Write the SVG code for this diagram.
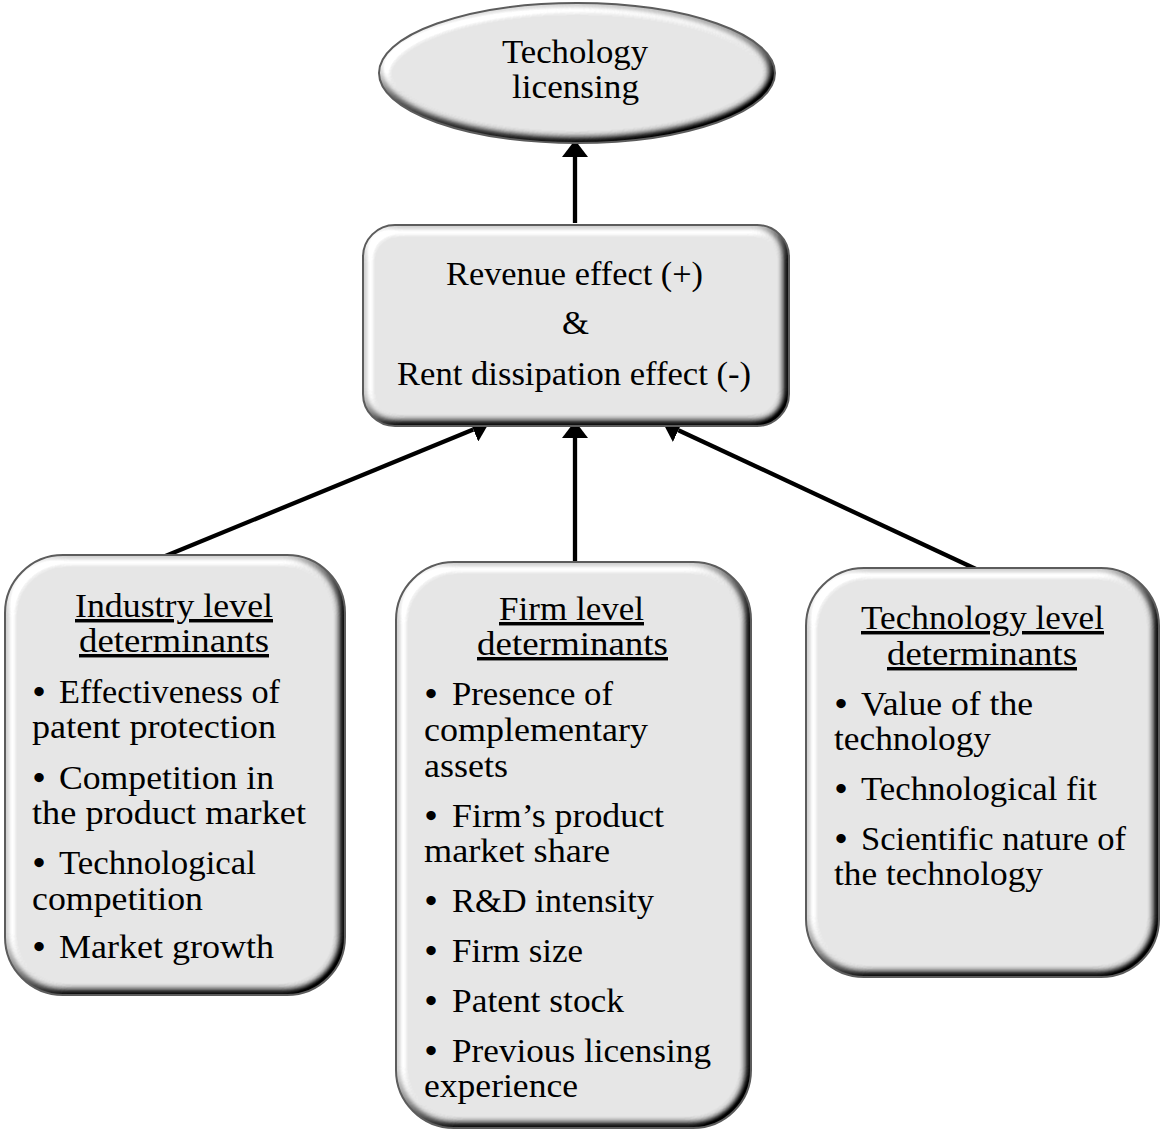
<svg xmlns="http://www.w3.org/2000/svg" width="1161" height="1131" viewBox="0 0 1161 1131">
<style>
.shape{fill:#e6e6e6;filter:url(#bevel)}
.outline{fill:none;stroke:#5c5c5c;stroke-width:2}
.t{font-family:"Liberation Serif","Times New Roman",serif;font-size:34.5px;fill:#000}
.b{font-weight:bold}
.u{text-decoration:underline}
.conn{stroke:#000;stroke-width:4.3;fill:none;marker-end:url(#arrow)}
</style>
<defs>
<filter id="bevel" x="-5%" y="-5%" width="110%" height="110%" color-interpolation-filters="sRGB">
<feGaussianBlur in="SourceAlpha" stdDeviation="5" result="b"/>
<feDiffuseLighting in="b" surfaceScale="8" diffuseConstant="1" lighting-color="#ffffff" result="l">
<feDistantLight azimuth="225" elevation="60"/>
</feDiffuseLighting>
<feComposite in="SourceGraphic" in2="l" operator="arithmetic" k1="0" k2="1" k3="1.35" k4="-1.169" result="c"/>
<feComposite in="c" in2="SourceAlpha" operator="in"/>
</filter>
<marker id="arrow" markerUnits="userSpaceOnUse" markerWidth="17" markerHeight="26" refX="0" refY="13" orient="auto">
<path d="M0,0 L17,13 L0,26 Z" fill="#000"/>
</marker>
</defs>
<rect width="1161" height="1131" fill="#ffffff"/>

<g id="connectors">
<line class="conn" x1="575" y1="223" x2="575" y2="157"/>
<line class="conn" x1="575" y1="565" x2="575" y2="438"/>
<line class="conn" x1="163" y1="557" x2="473.3" y2="429.5"/>
<line class="conn" x1="978" y1="570" x2="678.4" y2="430.2"/>
</g>

<g id="n-licensing">
<ellipse class="shape" cx="577" cy="73" rx="198" ry="70"/>
<ellipse class="outline" cx="577" cy="73" rx="198" ry="70"/>
<text class="t" x="502" y="63" textLength="146" lengthAdjust="spacingAndGlyphs">Techology</text>
<text class="t" x="512" y="98" textLength="127" lengthAdjust="spacingAndGlyphs">licensing</text>
</g>

<g id="n-effects">
<rect class="shape" x="363" y="225" width="426" height="201" rx="32"/>
<rect class="outline" x="363" y="225" width="426" height="201" rx="32"/>
<text class="t" x="446" y="285" textLength="257" lengthAdjust="spacingAndGlyphs">Revenue effect (+)</text>
<text class="t" x="562" y="334" textLength="27" lengthAdjust="spacingAndGlyphs">&amp;</text>
<text class="t" x="397" y="385" textLength="354" lengthAdjust="spacingAndGlyphs">Rent dissipation effect (-)</text>
</g>

<g id="n-industry">
<rect class="shape" x="5" y="555" width="340" height="440" rx="58"/>
<rect class="outline" x="5" y="555" width="340" height="440" rx="58"/>
<text class="t u" x="75" y="617" textLength="198" lengthAdjust="spacingAndGlyphs">Industry level</text>
<text class="t u" x="79" y="652" textLength="190" lengthAdjust="spacingAndGlyphs">determinants</text>
<text class="t b" x="33" y="703">•</text>
<text class="t" x="59" y="703" textLength="221" lengthAdjust="spacingAndGlyphs">Effectiveness of</text>
<text class="t" x="32" y="738" textLength="244" lengthAdjust="spacingAndGlyphs">patent protection</text>
<text class="t b" x="33" y="789">•</text>
<text class="t" x="59" y="789" textLength="215" lengthAdjust="spacingAndGlyphs">Competition in</text>
<text class="t" x="32" y="824" textLength="274" lengthAdjust="spacingAndGlyphs">the product market</text>
<text class="t b" x="33" y="874">•</text>
<text class="t" x="59" y="874" textLength="197" lengthAdjust="spacingAndGlyphs">Technological</text>
<text class="t" x="32" y="910" textLength="171" lengthAdjust="spacingAndGlyphs">competition</text>
<text class="t b" x="33" y="958">•</text>
<text class="t" x="59" y="958" textLength="215" lengthAdjust="spacingAndGlyphs">Market growth</text>
</g>

<g id="n-firm">
<rect class="shape" x="396" y="562" width="355" height="566" rx="58"/>
<rect class="outline" x="396" y="562" width="355" height="566" rx="58"/>
<text class="t u" x="499" y="620" textLength="145" lengthAdjust="spacingAndGlyphs">Firm level</text>
<text class="t u" x="477" y="655" textLength="191" lengthAdjust="spacingAndGlyphs">determinants</text>
<text class="t b" x="425" y="705">•</text>
<text class="t" x="452" y="705" textLength="161" lengthAdjust="spacingAndGlyphs">Presence of</text>
<text class="t" x="424" y="741" textLength="224" lengthAdjust="spacingAndGlyphs">complementary</text>
<text class="t" x="424" y="777" textLength="84" lengthAdjust="spacingAndGlyphs">assets</text>
<text class="t b" x="425" y="827">•</text>
<text class="t" x="452" y="827" textLength="212" lengthAdjust="spacingAndGlyphs">Firm’s product</text>
<text class="t" x="424" y="862" textLength="186" lengthAdjust="spacingAndGlyphs">market share</text>
<text class="t b" x="425" y="912">•</text>
<text class="t" x="452" y="912" textLength="202" lengthAdjust="spacingAndGlyphs">R&amp;D intensity</text>
<text class="t b" x="425" y="962">•</text>
<text class="t" x="452" y="962" textLength="131" lengthAdjust="spacingAndGlyphs">Firm size</text>
<text class="t b" x="425" y="1012">•</text>
<text class="t" x="452" y="1012" textLength="172" lengthAdjust="spacingAndGlyphs">Patent stock</text>
<text class="t b" x="425" y="1062">•</text>
<text class="t" x="452" y="1062" textLength="259" lengthAdjust="spacingAndGlyphs">Previous licensing</text>
<text class="t" x="424" y="1097" textLength="154" lengthAdjust="spacingAndGlyphs">experience</text>
</g>

<g id="n-technology">
<rect class="shape" x="806" y="568" width="353" height="409" rx="58"/>
<rect class="outline" x="806" y="568" width="353" height="409" rx="58"/>
<text class="t u" x="861" y="629" textLength="243" lengthAdjust="spacingAndGlyphs">Technology level</text>
<text class="t u" x="887" y="665" textLength="190" lengthAdjust="spacingAndGlyphs">determinants</text>
<text class="t b" x="835" y="715">•</text>
<text class="t" x="861" y="715" textLength="172" lengthAdjust="spacingAndGlyphs">Value of the</text>
<text class="t" x="834" y="750" textLength="157" lengthAdjust="spacingAndGlyphs">technology</text>
<text class="t b" x="835" y="800">•</text>
<text class="t" x="861" y="800" textLength="236" lengthAdjust="spacingAndGlyphs">Technological fit</text>
<text class="t b" x="835" y="850">•</text>
<text class="t" x="861" y="850" textLength="265" lengthAdjust="spacingAndGlyphs">Scientific nature of</text>
<text class="t" x="834" y="885" textLength="209" lengthAdjust="spacingAndGlyphs">the technology</text>
</g>
</svg>
